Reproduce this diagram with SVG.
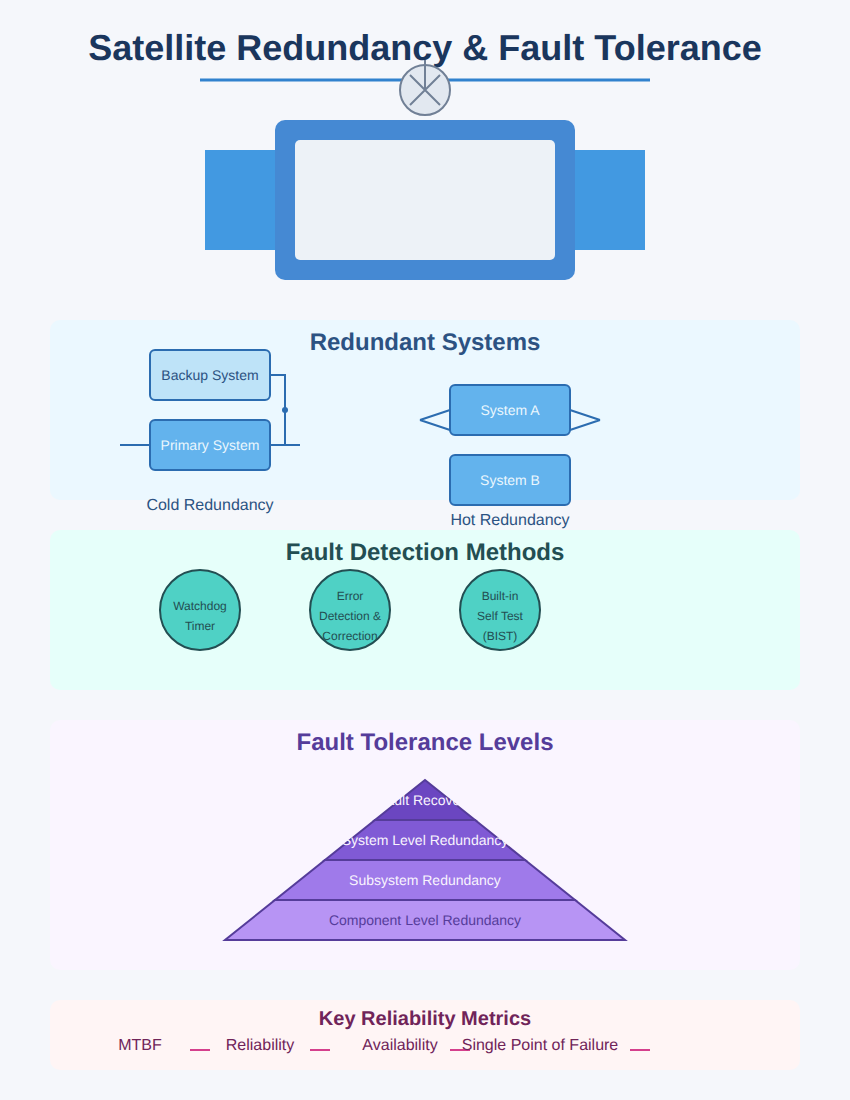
<svg xmlns="http://www.w3.org/2000/svg" width="850" height="1100" viewBox="0 0 850 1100" style="will-change:opacity">
<style>
text{font-family:"Liberation Sans",Arial,sans-serif;text-anchor:middle;text-rendering:geometricPrecision;opacity:.995}
.sec{font-size:24px;font-weight:bold}
.lab{font-size:16px;fill:#2c5282}
.box{stroke:#2b6cb0;stroke-width:2;fill:#63b3ed}
.bt{font-size:14px;fill:#ebf8ff}
.wire{stroke:#2b6cb0;stroke-width:2;fill:none}
.circ{fill:#4fd1c5;stroke:#234e52;stroke-width:2}
.ct{font-size:12px;fill:#234e52}
.lvl{stroke:#553c9a;stroke-width:2}
.pt{font-size:14px;fill:#faf5ff}
.met{font-size:16px;fill:#702459}
.ml{stroke:#d53f8c;stroke-width:2}
.sat{stroke:#718096;stroke-width:2;fill:none}
</style>
<rect width="850" height="1100" fill="#f5f7fb"/>
<text x="425" y="60" font-size="36" font-weight="bold" fill="#1a365d">Satellite Redundancy &amp; Fault Tolerance</text>
<line x1="200" y1="80" x2="650" y2="80" stroke="#3182ce" stroke-width="3"/>
<g id="satellite">
<rect x="205" y="150" width="440" height="100" fill="#4299e1"/>
<rect x="275" y="120" width="300" height="160" rx="10" fill="#4589d3"/>
<rect x="295" y="140" width="260" height="120" rx="5" fill="#edf2f7"/>
<circle cx="425" cy="90" r="25" fill="#e2e8f0" stroke="#718096" stroke-width="2"/>
<path class="sat" d="M425 90V60M410 75L440 105M440 75L410 105"/>
</g>
<g id="section-redundant">
<rect x="50" y="320" width="750" height="180" rx="10" fill="#ebf8ff"/>
<text class="sec" x="425" y="350" fill="#2c5282">Redundant Systems</text>
</g>
<g id="connectors">
<path class="wire" d="M120 445H150M270 445H300M270 375H285V445"/>
<circle cx="285" cy="410" r="3" fill="#2b6cb0"/>
<path class="wire" d="M450 410L420 420M420 420L450 430M570 410L600 420M600 420L570 430"/>
</g>
<g id="backup-system">
<rect class="box" x="150" y="350" width="120" height="50" rx="5" style="fill:#bee3f8"/>
<text class="bt" x="210" y="380" style="fill:#2c5282">Backup System</text>
</g>
<g id="primary-system">
<rect class="box" x="150" y="420" width="120" height="50" rx="5"/>
<text class="bt" x="210" y="450">Primary System</text>
</g>
<text class="lab" x="210" y="510">Cold Redundancy</text>
<g id="system-a">
<rect class="box" x="450" y="385" width="120" height="50" rx="5"/>
<text class="bt" x="510" y="415">System A</text>
</g>
<g id="system-b">
<rect class="box" x="450" y="455" width="120" height="50" rx="5"/>
<text class="bt" x="510" y="485">System B</text>
</g>
<text class="lab" x="510" y="525">Hot Redundancy</text>
<g id="section-detection">
<rect x="50" y="530" width="750" height="160" rx="10" fill="#e6fffa"/>
<text class="sec" x="425" y="560" fill="#234e52">Fault Detection Methods</text>
</g>
<g id="watchdog">
<circle class="circ" cx="200" cy="610" r="40"/>
<text class="ct" x="200" y="610">Watchdog</text>
<text class="ct" x="200" y="630">Timer</text>
</g>
<g id="edac">
<circle class="circ" cx="350" cy="610" r="40"/>
<text class="ct" x="350" y="600">Error</text>
<text class="ct" x="350" y="620">Detection &amp;</text>
<text class="ct" x="350" y="640">Correction</text>
</g>
<g id="bist">
<circle class="circ" cx="500" cy="610" r="40"/>
<text class="ct" x="500" y="600">Built-in</text>
<text class="ct" x="500" y="620">Self Test</text>
<text class="ct" x="500" y="640">(BIST)</text>
</g>
<g id="section-levels">
<rect x="50" y="720" width="750" height="250" rx="10" fill="#faf5ff"/>
<text class="sec" x="425" y="750" fill="#553c9a">Fault Tolerance Levels</text>
</g>
<g id="level-component">
<polygon class="lvl" points="275,900 575,900 625,940 225,940" fill="#b794f4"/>
<text class="pt" x="425" y="925" style="fill:#553c9a">Component Level Redundancy</text>
</g>
<g id="level-subsystem">
<polygon class="lvl" points="325,860 525,860 575,900 275,900" fill="#9f7aea"/>
<text class="pt" x="425" y="885">Subsystem Redundancy</text>
</g>
<g id="level-system">
<polygon class="lvl" points="375,820 475,820 525,860 325,860" fill="#805ad5"/>
<text class="pt" x="425" y="845">System Level Redundancy</text>
</g>
<g id="level-recovery">
<polygon class="lvl" points="425,780 475,820 375,820" fill="#6b46c1"/>
<text class="pt" x="425" y="805">Fault Recovery</text>
</g>
<g id="section-metrics">
<rect x="50" y="1000" width="750" height="70" rx="10" fill="#fff5f5"/>
<text x="425" y="1025" font-size="20" font-weight="bold" fill="#702459">Key Reliability Metrics</text>
</g>
<g id="metric-mtbf"><text class="met" x="140" y="1050">MTBF</text><line class="ml" x1="190" y1="1050" x2="210" y2="1050"/></g>
<g id="metric-reliability"><text class="met" x="260" y="1050">Reliability</text><line class="ml" x1="310" y1="1050" x2="330" y2="1050"/></g>
<g id="metric-availability"><text class="met" x="400" y="1050">Availability</text><line class="ml" x1="450" y1="1050" x2="470" y2="1050"/></g>
<g id="metric-spof"><text class="met" x="540" y="1050">Single Point of Failure</text><line class="ml" x1="630" y1="1050" x2="650" y2="1050"/></g>
</svg>
